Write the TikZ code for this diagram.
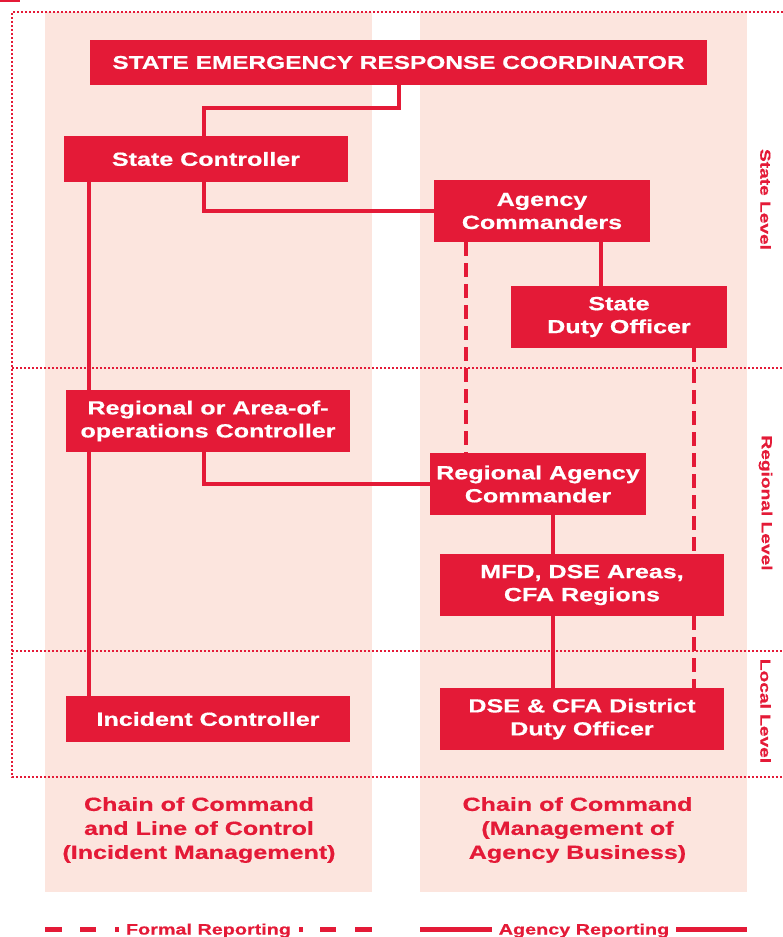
\documentclass[tikz,border=0pt]{standalone}
\usepackage{fontspec}
\setmainfont{Liberation Sans}
\newfontfamily\wfont{Liberation Sans}[FakeStretch=1.32,FakeBold=0.6]
\definecolor{ered}{RGB}{228,26,55}
\definecolor{epink}{RGB}{252,229,222}
\begin{document}
\begin{tikzpicture}[x=1pt,y=-1pt,
  box/.style={rectangle, fill=ered, text=white, inner sep=0pt, align=center,
    font=\wfont\bfseries\fontsize{19}{23}\selectfont},
  conn/.style={draw=ered, line width=4pt},
  fconn/.style={conn, dash pattern=on 14pt off 7pt},
  dotln/.style={draw=ered, line width=1.8pt, dash pattern=on 1.8pt off 2.2pt},
  lvl/.style={text=ered, rotate=-90, inner sep=0pt, font=\wfont\bfseries\fontsize{14.5}{17}\selectfont},
  capt/.style={text=ered, align=center, inner sep=0pt, font=\wfont\bfseries\fontsize{19}{24}\selectfont},
  leg/.style={text=ered, inner sep=0pt, font=\wfont\bfseries\fontsize{15}{18}\selectfont},
  legln/.style={draw=ered, line width=5pt}]
\useasboundingbox (0,0) rectangle (783,937);
% background columns
\fill[epink] (45,12) rectangle (372,892);
\fill[epink] (420,12) rectangle (747,892);
\fill[ered] (0,0) rectangle (20,1.5);
% dotted frame and level separators
\draw[dotln] (783,12) -- (12,12) -- (12,777) -- (783,777);
\draw[dotln] (12,368) -- (783,368);
\draw[dotln] (12,651) -- (783,651);
% boxes
\node[box, minimum width=617pt, minimum height=45pt, font=\wfont\bfseries\fontsize{18.5}{23}\selectfont]
  (serc) at (398.5,62.5) {STATE EMERGENCY RESPONSE COORDINATOR};
\node[box, minimum width=284pt, minimum height=46pt] (sc) at (206,159) {State Controller};
\node[box, minimum width=216pt, minimum height=62pt] (ac) at (542,211) {Agency\\Commanders};
\node[box, minimum width=216pt, minimum height=62pt] (sdo) at (619,317) {State\\Duty Officer};
\node[box, minimum width=284pt, minimum height=62pt] (rc) at (208,421) {Regional or Area-of-\\operations Controller};
\node[box, minimum width=216pt, minimum height=62pt] (rac) at (538,484) {Regional Agency\\Commander};
\node[box, minimum width=284pt, minimum height=62pt] (mfd) at (582,585) {MFD, DSE Areas,\\CFA Regions};
\node[box, minimum width=284pt, minimum height=46pt] (ic) at (208,719) {Incident Controller};
\node[box, minimum width=284pt, minimum height=62pt] (dse) at (582,719) {DSE \& CFA District\\Duty Officer};
% connector x positions
\coordinate (xl) at (89,0);
\coordinate (xm) at (204,0);
\coordinate (xd1) at (466,0);
\coordinate (xs1) at (601,0);
\coordinate (xd2) at (694,0);
\coordinate (xs2) at (553,0);
% connectors
\draw[conn] (serc.south) -- ++(0,23) -| (sc.north -| xm);
\draw[conn] (sc.south -| xm) |- (ac.west);
\draw[conn] (sc.south -| xl) -- (rc.north -| xl);
\draw[conn] (rc.south -| xl) -- (ic.north -| xl);
\draw[conn] (rc.south -| xm) |- (rac.west);
\draw[fconn] (ac.south -| xd1) -- (rac.north -| xd1);
\draw[conn] (ac.south -| xs1) -- (sdo.north -| xs1);
\draw[fconn] (sdo.south -| xd2) -- (mfd.north -| xd2);
\draw[fconn] (mfd.south -| xd2) -- (dse.north -| xd2);
\draw[conn] (rac.south -| xs2) -- (mfd.north -| xs2);
\draw[conn] (mfd.south -| xs2) -- (dse.north -| xs2);
% level labels
\node[lvl] (lvs) at (765.5,199.5) {State Level};
\node[lvl] (lvr) at (765.5,503) {Regional Level};
\node[lvl] (lvl) at (765.5,711) {Local Level};
% captions
\node[capt] (capl) at (199,830) {Chain of Command\\and Line of Control\\(Incident Management)};
\node[capt] (capr) at (577.5,830) {Chain of Command\\(Management of\\Agency Business)};
% legend
\draw[legln] (45,929) -- (62,929);
\draw[legln] (80,929) -- (96,929);
\draw[legln] (115,929) -- (119,929);
\node[leg, anchor=base] (lgf) at (208.5,934.5) {Formal Reporting};
\draw[legln] (299,929) -- (303,929);
\draw[legln] (320,929) -- (336,929);
\draw[legln] (355,929) -- (372,929);
\draw[legln] (420,929) -- (492,929);
\node[leg, anchor=base] (lga) at (584,934.5) {Agency Reporting};
\draw[legln] (676,929) -- (747,929);
\end{tikzpicture}
\end{document}
